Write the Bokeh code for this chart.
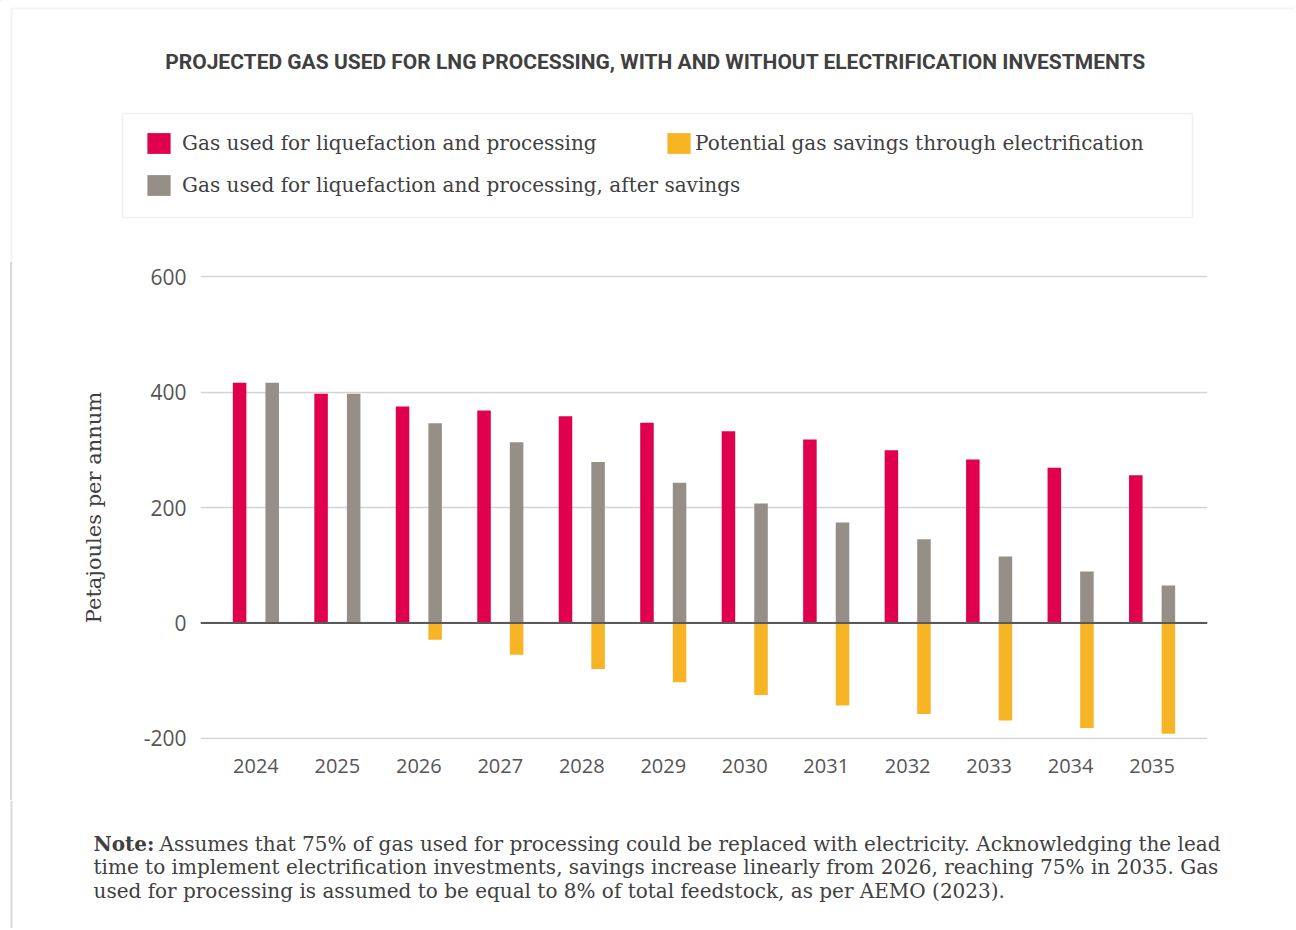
from bokeh.plotting import figure
from bokeh.layouts import column, row
from bokeh.models import (Range1d, FactorRange, Legend, LegendItem, Label,
                          BoxAnnotation, Span, ColumnDataSource, Div)
from bokeh.transform import dodge
from bokeh.embed import file_html
from bokeh.resources import INLINE

# ---------------- data ----------------
years = ["2024", "2025", "2026", "2027", "2028", "2029",
         "2030", "2031", "2032", "2033", "2034", "2035"]
gas_used = [416, 397, 375, 368, 358, 347, 332, 318, 299, 283, 269, 256]
gas_after_savings = [416, 397, 346, 313, 279, 243, 207, 174, 145, 115, 89, 65]
potential_savings = [0, 0, -29, -55, -80, -103, -125, -143, -158, -169, -182, -192]
y_ticks = [-200, 0, 200, 400, 600]
y_tick_labels = {-200: "-200", 0: "0", 200: "200", 400: "400", 600: "600"}

title_text = "PROJECTED GAS USED FOR LNG PROCESSING, WITH AND WITHOUT ELECTRIFICATION INVESTMENTS"
legend_labels = ["Gas used for liquefaction and processing",
                 "Potential gas savings through electrification",
                 "Gas used for liquefaction and processing, after savings"]
note_head = "Note:"
note_lines = [
    "Assumes that 75% of gas used for processing could be replaced with electricity. Acknowledging the lead",
    "time to implement electrification investments, savings increase linearly from 2026, reaching 75% in 2035. Gas",
    "used for processing is assumed to be equal to 8% of total feedstock, as per AEMO (2023).",
]

RED = "#E0004D"
GREY = "#968F88"
YELLOW = "#F7B526"
TEXT = "#404040"
BORDER = "#d9d9d9"

src = ColumnDataSource(dict(year=years, used=gas_used, after=gas_after_savings,
                            savings=potential_savings))

W, H = 1294, 928
HDR_H = 262          # header: page y 0..262
MAIN_B = 800         # main chart: page y 262..800
STRIP_W = 12
FL, FR, FT, FB = 200, 1207, 275, 739   # plotting frame in page pixels

def blank(width, height, y0, y1, x0=0):
    f = figure(width=width, height=height, x_range=Range1d(x0, x0 + width),
               y_range=Range1d(y1, y0), min_border=0, x_axis_type=None,
               y_axis_type=None, toolbar_location=None, output_backend="svg",
               background_fill_color="white", border_fill_color="white")
    f.outline_line_color = None
    f.grid.visible = False
    return f

# ---------------- header ----------------
hdr = blank(W, HDR_H, 0, HDR_H)
hdr.add_layout(BoxAnnotation(left=11, right=W + 50, top=8, bottom=HDR_H + 50,
                             fill_color=None, fill_alpha=0, line_color=BORDER, line_width=2))
hdr.add_layout(BoxAnnotation(left=122, right=1192, top=113, bottom=217,
                             fill_color=None, fill_alpha=0, line_color="#cccccc", line_width=1.5))
hdr.add_layout(Label(x=655, y=61, text=title_text, text_font="Roboto",
                     text_font_style="bold", text_font_size="21px", text_color=TEXT,
                     text_align="center", text_baseline="middle"))
# legend proxies (one point each, placed outside the visible header area)
k_red = hdr.vbar(x=[-100], top=[-100], bottom=[-90], width=1, fill_color=RED, line_color=None)
k_yel = hdr.vbar(x=[-100], top=[-100], bottom=[-90], width=1, fill_color=YELLOW, line_color=None)
k_grey = hdr.vbar(x=[-100], top=[-100], bottom=[-90], width=1, fill_color=GREY, line_color=None)
common = dict(border_line_color=None, background_fill_alpha=0, padding=0, margin=0,
              glyph_width=29, glyph_height=26, label_height=21,
              label_text_font="DejaVu Serif", label_text_font_size="20px",
              label_text_color=TEXT, spacing=16, orientation="vertical")
legA = Legend(items=[LegendItem(label=legend_labels[0], renderers=[k_red]),
                     LegendItem(label=legend_labels[2], renderers=[k_grey])],
              location=(144, HDR_H - 198), label_standoff=9, **common)
legB = Legend(items=[LegendItem(label=legend_labels[1], renderers=[k_yel])],
              location=(664, HDR_H - 156), label_standoff=2, **common)
hdr.add_layout(legA)
hdr.add_layout(legB)

# ---------------- left strip (outer border) ----------------
strip = Div(text="", width=STRIP_W, height=MAIN_B - HDR_H, margin=0,
            styles={"border-right": "2px solid " + BORDER, "box-sizing": "border-box"})

# ---------------- main chart ----------------
MW = W - STRIP_W
p = figure(x_range=FactorRange(factors=years, range_padding=0.03),
           y_range=Range1d(-202, 602),
           width=MW, height=MAIN_B - HDR_H, output_backend="svg", toolbar_location=None,
           min_border_left=FL - STRIP_W, min_border_right=W - FR,
           min_border_top=FT - HDR_H, min_border_bottom=MAIN_B - FB,
           background_fill_color="white", border_fill_color="white")
p.outline_line_color = None

bw = 0.166
p.vbar(x=dodge("year", -0.2, range=p.x_range), top="used", bottom=0,
       width=bw, source=src, fill_color=RED, line_color=None)
p.vbar(x=dodge("year", 0.2, range=p.x_range), top="after", bottom=0,
       width=bw, source=src, fill_color=GREY, line_color=None)
p.vbar(x=dodge("year", 0.2, range=p.x_range), top=0, bottom="savings",
       width=bw, source=src, fill_color=YELLOW, line_color=None)

p.yaxis.ticker = y_ticks
p.yaxis.major_label_overrides = y_tick_labels
p.xgrid.grid_line_color = None
p.ygrid.grid_line_color = "#d3d3d3"
p.ygrid.grid_line_width = 1.5
for ax in (p.xaxis[0], p.yaxis[0]):
    ax.axis_line_color = None
    ax.major_tick_line_color = None
    ax.minor_tick_line_color = None
    ax.major_label_text_font = "Open Sans"
    ax.major_label_text_color = "#555555"
p.xaxis.major_label_text_font_size = "20px"
p.yaxis.major_label_text_font_size = "21px"
p.yaxis.major_label_standoff = 8
p.xaxis.major_label_standoff = 13
p.yaxis.axis_label = "Petajoules per annum"
p.yaxis.axis_label_text_font = "DejaVu Serif"
p.yaxis.axis_label_text_font_style = "normal"
p.yaxis.axis_label_text_font_size = "21px"
p.yaxis.axis_label_text_color = TEXT
p.yaxis.axis_label_standoff = 35

p.add_layout(Span(location=0, dimension="width", line_color="#595959", line_width=2))

# ---------------- footer ----------------
ftr = blank(W, H - MAIN_B, MAIN_B, H)
ftr.add_layout(Span(location=11, dimension="height", line_color=BORDER, line_width=2))
ftr.add_layout(Label(x=93, y=843, text=note_head, text_font="DejaVu Serif",
                     text_font_style="bold", text_font_size="20px", text_color=TEXT,
                     text_align="left", text_baseline="middle"))
for i, line in enumerate(note_lines):
    ftr.add_layout(Label(x=159 if i == 0 else 93, y=843 + 23.5 * i, text=line,
                         text_font="DejaVu Serif", text_font_size="20px", text_color=TEXT,
                         text_align="left", text_baseline="middle"))

layout = column(hdr, row(strip, p), ftr)
open("out.html", "w").write(file_html(layout, INLINE))
